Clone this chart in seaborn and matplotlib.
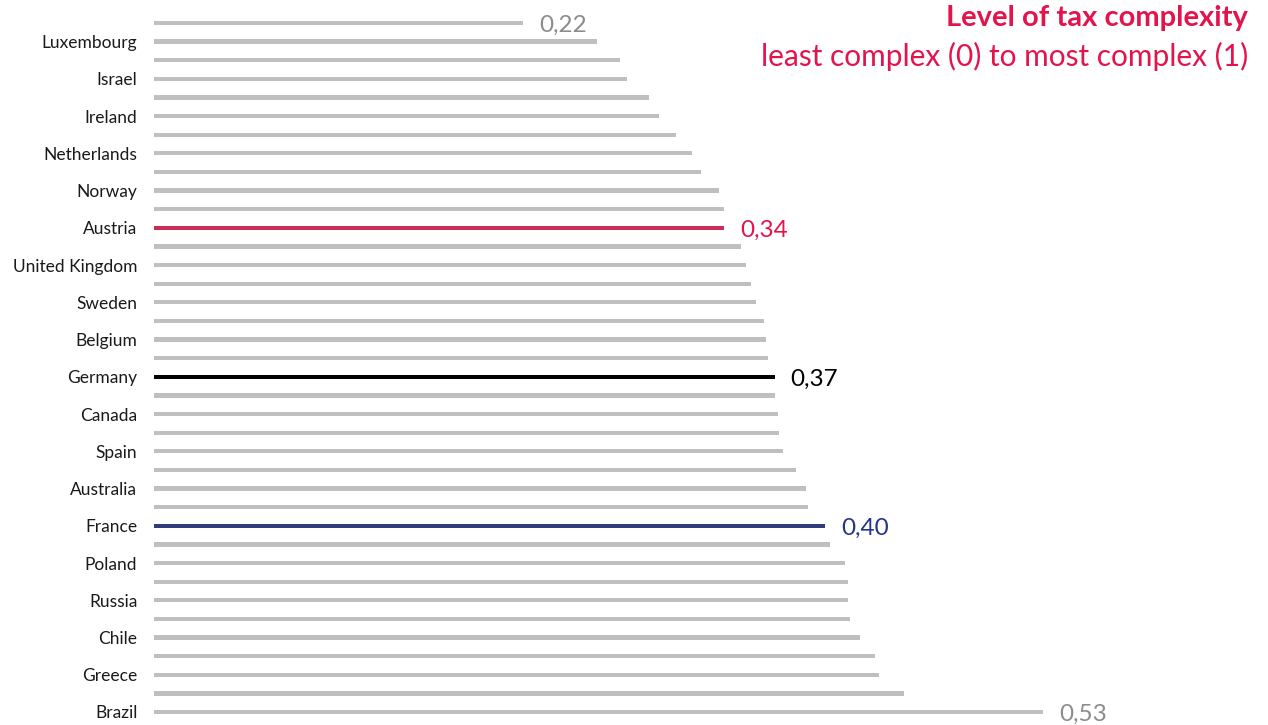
import numpy as np
import pandas as pd
import matplotlib
matplotlib.use("Agg")
import matplotlib.pyplot as plt
import seaborn as sns

# Tax complexity index, ordered from least to most complex (top to bottom).
# Only every second country is named on the axis.
countries = [
    "", "Luxembourg", "", "Israel", "", "Ireland", "", "Netherlands", "", "Norway",
    "", "Austria", "", "United Kingdom", "", "Sweden", "", "Belgium", "", "Germany",
    "", "Canada", "", "Spain", "", "Australia", "", "France", "", "Poland",
    "", "Russia", "", "Chile", "", "Greece", "", "Brazil",
]
complexity = [
    0.22, 0.264, 0.278, 0.282, 0.295, 0.301, 0.311, 0.321, 0.326, 0.337,
    0.340, 0.34, 0.350, 0.353, 0.356, 0.359, 0.3635, 0.365, 0.366, 0.37,
    0.370, 0.372, 0.3725, 0.375, 0.383, 0.3886, 0.390, 0.40, 0.403, 0.412,
    0.414, 0.414, 0.415, 0.421, 0.430, 0.432, 0.447, 0.53,
]
# Highlight group per bar and which bars carry a value label
group = ["other"] * len(complexity)
group[11] = "Austria"
group[19] = "Germany"
group[27] = "France"
labelled = [0, 11, 19, 27, 37]

title = "Level of tax complexity"
subtitle = "least complex (0) to most complex (1)"

RED = "#E3144B"
NAVY = "#253487"
GREY = "#BFBFBF"
palette = {"other": GREY, "Austria": RED, "Germany": "#000000", "France": NAVY}
label_colors = {"other": "#8C8C8C", "Austria": RED, "Germany": "#000000", "France": NAVY}

df = pd.DataFrame({
    "pos": np.arange(len(complexity)),
    "value": complexity,
    "group": group,
    "country": countries,
})

sns.set_theme(style="white")
plt.rcParams["font.family"] = ["Lato", "DejaVu Sans"]

W, H = 1268, 725
fig = plt.figure(figsize=(W / 100, H / 100), dpi=100)
left, right = 154, 1261
top, bottom = 13.7, 721.3
ax = fig.add_axes([left / W, 1 - bottom / H, (right - left) / W, (bottom - top) / H])

sns.barplot(
    data=df, x="value", y="pos", hue="group", palette=palette,
    orient="h", native_scale=True, dodge=False, width=0.23,
    legend=False, ax=ax, linewidth=0,
)

ax.set_xlim(0, 0.66)
ax.set_ylim(len(complexity) - 0.5, -0.5)

named = df[df["country"] != ""]
ax.set_yticks(named["pos"])
ax.set_yticklabels(named["country"], fontsize=12.5, color="#1a1a1a")
ax.tick_params(axis="y", length=0, pad=12)
ax.set_xticks([])
ax.set_xlabel("")
ax.set_ylabel("")
for s in ax.spines.values():
    s.set_visible(False)

for i in labelled:
    v = complexity[i]
    ax.annotate(
        f"{v:.2f}".replace(".", ","),
        xy=(v, i), xytext=(11.5, -2), textcoords="offset points",
        va="center", ha="left", fontsize=17.5, color=label_colors[group[i]],
    )

fig.text(1248 / W, 1 - 18 / H, title, ha="right", va="center",
         fontsize=21, fontweight="bold", color=RED)
fig.text(1248 / W, 1 - 56 / H, subtitle, ha="right", va="center",
         fontsize=21.5, color=RED)

fig.savefig("out.png", dpi=100)
